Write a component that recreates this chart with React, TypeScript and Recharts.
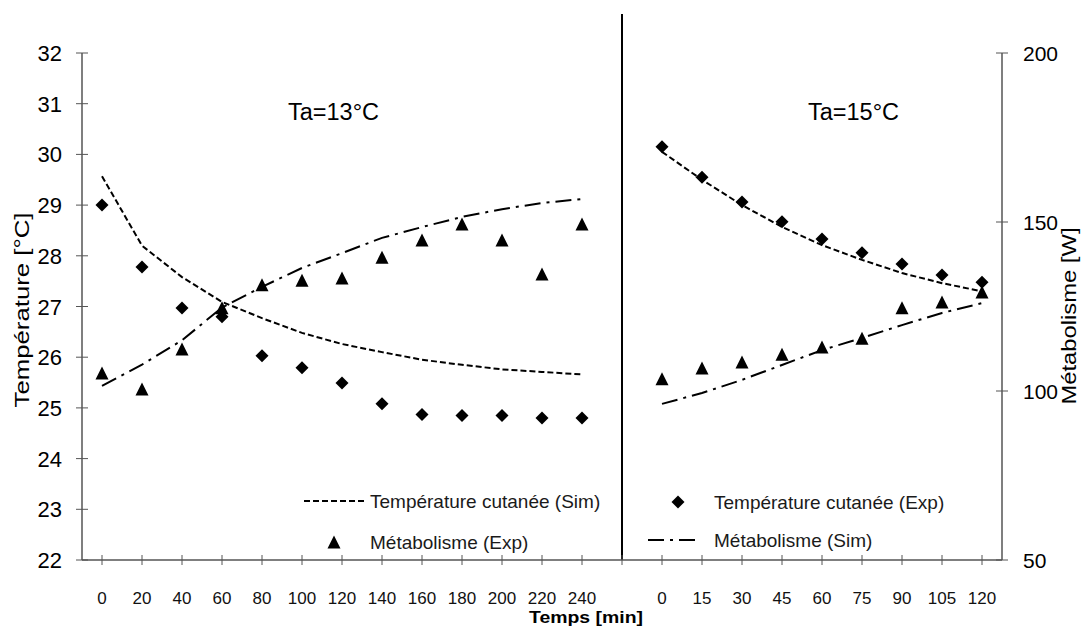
import React from 'react';
import { ComposedChart, Line, XAxis, YAxis, ReferenceLine, Legend } from 'recharts';

// ---------- data ----------
const leftTimes = ['0', '20', '40', '60', '80', '100', '120', '140', '160', '180', '200', '220', '240'];
const rightTimes = ['0', '15', '30', '45', '60', '75', '90', '105', '120'];
const gapKey = 'gap';

const leftTempExp = [29.0, 27.78, 26.97, 26.8, 26.03, 25.79, 25.49, 25.08, 24.87, 24.85, 24.85, 24.8, 24.8];
const leftTempSim = [29.57, 28.2, 27.58, 27.09, 26.77, 26.48, 26.26, 26.1, 25.95, 25.85, 25.76, 25.71, 25.66];
const leftMetExp = [105.3, 100.6, 112.4, 124.6, 131.4, 132.8, 133.4, 139.6, 144.7, 149.4, 144.7, 134.6, 149.4];
const leftMetSim = [101.5, 107.8, 115.0, 124.7, 130.8, 136.4, 140.8, 145.3, 148.5, 151.5, 153.8, 155.6, 156.8];

const rightTempExp = [30.15, 29.55, 29.06, 28.67, 28.33, 28.06, 27.84, 27.62, 27.48];
const rightTempSim = [30.05, 29.5, 29.0, 28.57, 28.21, 27.92, 27.66, 27.46, 27.3];
const rightMetExp = [103.6, 106.8, 108.6, 110.9, 113.0, 115.6, 124.6, 126.3, 129.3];
const rightMetSim = [96.2, 99.4, 103.3, 107.7, 112.1, 115.7, 119.5, 123.1, 126.0];

const tempTicks = [22, 23, 24, 25, 26, 27, 28, 29, 30, 31, 32];
const metTicks = [50, 100, 150, 200];

const leftTitle = 'Température [°C]';
const rightTitle = 'Métabolisme [W]';
const xTitle = 'Temps [min]';
const panelTitles = ['Ta=13°C', 'Ta=15°C'];
const legendNames = {
  tempSim: 'Température cutanée (Sim)',
  tempExp: 'Température cutanée (Exp)',
  metExp: 'Métabolisme (Exp)',
  metSim: 'Métabolisme (Sim)',
};

const data = [
  ...leftTimes.map((t, i) => ({
    key: 'L' + t,
    label: t,
    tempExp: leftTempExp[i],
    tempSim: leftTempSim[i],
    metExp: leftMetExp[i],
    metSim: leftMetSim[i],
  })),
  { key: gapKey, label: '', tempExp: null, tempSim: null, metExp: null, metSim: null },
  ...rightTimes.map((t, i) => ({
    key: 'R' + t,
    label: t,
    tempExp: rightTempExp[i],
    tempSim: rightTempSim[i],
    metExp: rightMetExp[i],
    metSim: rightMetSim[i],
  })),
];
const labelOf: Record<string, string> = {};
data.forEach((d) => {
  labelOf[d.key] = d.label;
});

// ---------- styles ----------
const FONT = "'Liberation Sans', Arial, sans-serif";
const AXIS = '#555555';
const DASH = '6 3';
const DASHDOT = '16 6 3 6';

const Diamond = ({ cx, cy }: any) => {
  if (cx == null || cy == null || isNaN(cy)) return null;
  const r = 6.5;
  return <path d={`M${cx},${cy - r}L${cx + r},${cy}L${cx},${cy + r}L${cx - r},${cy}Z`} fill="#000" />;
};
const Triangle = ({ cx, cy }: any) => {
  if (cx == null || cy == null || isNaN(cy)) return null;
  const w = 6.5;
  const h = 6.5;
  return <path d={`M${cx},${cy - h}L${cx + w},${cy + h}L${cx - w},${cy + h}Z`} fill="#000" />;
};

const XTick = ({ x, y, payload }: any) => (
  <g>
    <line x1={x} x2={x} y1={y - 5} y2={y + 5} stroke={AXIS} strokeWidth={1} />
    <text x={x} y={y + 44} textAnchor="middle" fontFamily={FONT} fontSize={17} fill="#111">
      {labelOf[payload.value] ?? ''}
    </text>
  </g>
);
const LeftTick = ({ x, y, payload }: any) => (
  <g>
    <line x1={x - 6} x2={x + 6} y1={y} y2={y} stroke={AXIS} strokeWidth={1} />
    <text x={x - 20} y={y + 8} textAnchor="end" fontFamily={FONT} fontSize={22} fill="#000">
      {payload.value}
    </text>
  </g>
);
const RightTick = ({ x, y, payload }: any) => (
  <g>
    <line x1={x - 6} x2={x + 6} y1={y} y2={y} stroke={AXIS} strokeWidth={1} />
    <text x={x + 21} y={y + 8} textAnchor="start" fontFamily={FONT} fontSize={21} fill="#000">
      {payload.value}
    </text>
  </g>
);

const LegendContent = () => (
  <svg width={1085} height={626} style={{ position: 'absolute', left: 0, top: 0 }}>
    <g fontFamily={FONT} fontSize={19} fill="#1a1a1a">
      <line x1={304} x2={364} y1={501} y2={501} stroke="#000" strokeWidth={2} strokeDasharray={DASH} />
      <text x={370} y={508}>{legendNames.tempSim}</text>
      <Triangle cx={334} cy={542} />
      <text x={370} y={549}>{legendNames.metExp}</text>
      <Diamond cx={678} cy={502} />
      <text x={714} y={509}>{legendNames.tempExp}</text>
      <line x1={648} x2={700} y1={540} y2={540} stroke="#000" strokeWidth={2} strokeDasharray={DASHDOT} />
      <text x={714} y={547}>{legendNames.metSim}</text>
    </g>
  </svg>
);

export default function App() {
  return (
    <div style={{ position: 'absolute', left: 0, top: 0, width: 1085, height: 626, background: '#fff' }}>
      <ComposedChart
        width={1085}
        height={626}
        data={data}
        margin={{ top: 53, right: 0, bottom: 0, left: 0 }}
      >
        <XAxis
          dataKey="key"
          type="category"
          interval={0}
          height={66}
          padding={{ left: 20, right: 20 }}
          tickSize={0}
          tickMargin={0}
          tickLine={false}
          axisLine={{ stroke: AXIS, strokeWidth: 1.5 }}
          tick={<XTick />}
        />
        <YAxis
          yAxisId="temp"
          orientation="left"
          width={82}
          domain={[22, 32]}
          ticks={tempTicks}
          interval={0}
          allowDataOverflow
          tickSize={0}
          tickMargin={0}
          tickLine={false}
          axisLine={{ stroke: AXIS, strokeWidth: 1.5 }}
          tick={<LeftTick />}
        />
        <YAxis
          yAxisId="met"
          orientation="right"
          width={83}
          domain={[50, 200]}
          ticks={metTicks}
          interval={0}
          allowDataOverflow
          tickSize={0}
          tickMargin={0}
          tickLine={false}
          axisLine={{ stroke: AXIS, strokeWidth: 1.5 }}
          tick={<RightTick />}
        />
        <ReferenceLine
          yAxisId="temp"
          segment={[{ x: gapKey, y: 22 }, { x: gapKey, y: 32.77 }]}
          stroke="#000"
          strokeWidth={2}
          ifOverflow="visible"
        />
        <Line
          yAxisId="temp"
          dataKey="tempSim"
          name={legendNames.tempSim}
          type="linear"
          stroke="#000"
          strokeWidth={2}
          strokeDasharray={DASH}
          dot={false}
          activeDot={false}
          isAnimationActive={false}
        />
        <Line
          yAxisId="met"
          dataKey="metSim"
          name={legendNames.metSim}
          type="linear"
          stroke="#000"
          strokeWidth={2}
          strokeDasharray={DASHDOT}
          dot={false}
          activeDot={false}
          isAnimationActive={false}
        />
        <Line
          yAxisId="temp"
          dataKey="tempExp"
          name={legendNames.tempExp}
          stroke="none"
          dot={<Diamond />}
          activeDot={false}
          isAnimationActive={false}
        />
        <Line
          yAxisId="met"
          dataKey="metExp"
          name={legendNames.metExp}
          stroke="none"
          dot={<Triangle />}
          activeDot={false}
          isAnimationActive={false}
        />
        <Legend
          layout="horizontal"
          verticalAlign="middle"
          align="center"
          wrapperStyle={{ position: 'absolute', left: 0, top: 0, width: 1085, height: 626, pointerEvents: 'none' }}
          content={<LegendContent />}
        />
      </ComposedChart>
      <svg
        width={1085}
        height={626}
        style={{ position: 'absolute', left: 0, top: 0, pointerEvents: 'none' }}
      >
        <g fontFamily={FONT} fill="#000">
          <text x={288} y={120} fontSize={23} textLength={91} lengthAdjust="spacingAndGlyphs">{panelTitles[0]}</text>
          <text x={808} y={120} fontSize={23} textLength={91} lengthAdjust="spacingAndGlyphs">{panelTitles[1]}</text>
          <text
            x={0}
            y={0}
            transform="translate(22,310) rotate(-90)"
            textAnchor="middle"
            dominantBaseline="central"
            fontSize={20}
            textLength={195}
            lengthAdjust="spacingAndGlyphs"
          >
            {leftTitle}
          </text>
          <text
            x={0}
            y={0}
            transform="translate(1069,316) rotate(-90)"
            textAnchor="middle"
            dominantBaseline="central"
            fontSize={20}
            textLength={177}
            lengthAdjust="spacingAndGlyphs"
          >
            {rightTitle}
          </text>
          <text x={529} y={623} fontSize={17} fontWeight="bold" textLength={114} lengthAdjust="spacingAndGlyphs">
            {xTitle}
          </text>
        </g>
      </svg>
    </div>
  );
}
